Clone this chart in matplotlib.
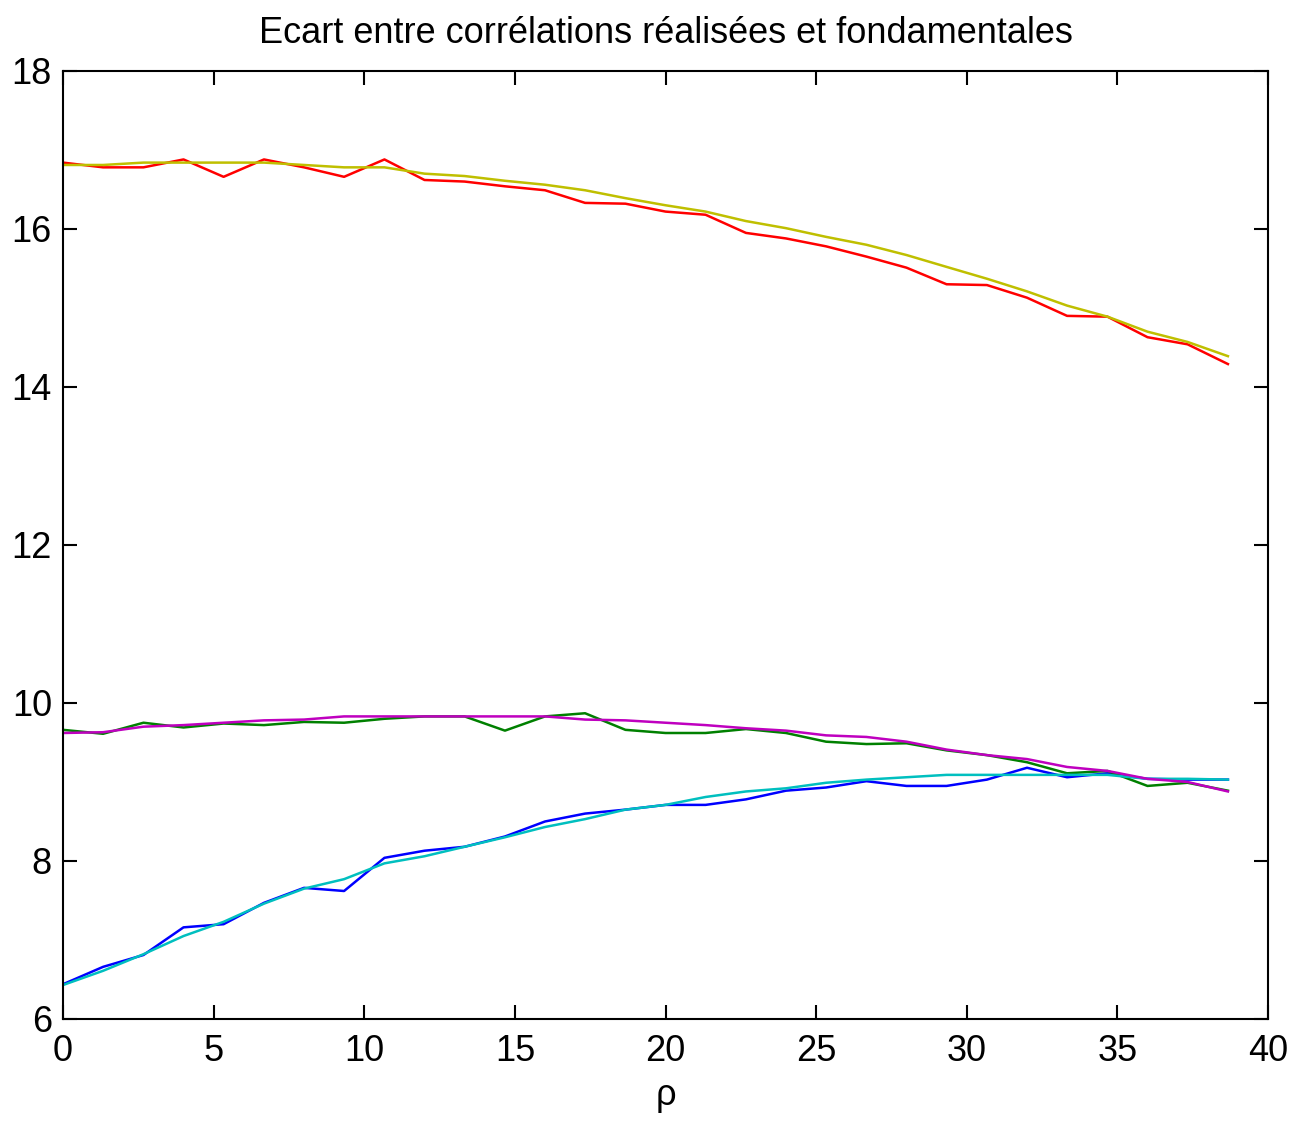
import matplotlib
matplotlib.use("Agg")
import matplotlib.pyplot as plt

# --- données ---
rho = [0, 1.33, 2.67, 4, 5.33, 6.67, 8, 9.33, 10.67, 12,
       13.33, 14.67, 16, 17.33, 18.67, 20, 21.33, 22.67, 24, 25.33,
       26.67, 28, 29.33, 30.67, 32, 33.33, 34.67, 36, 37.33, 38.67]

# réalisées
real_bas = [6.44, 6.66, 6.81, 7.16, 7.20, 7.47, 7.66, 7.62, 8.04, 8.13,
            8.18, 8.31, 8.50, 8.60, 8.65, 8.71, 8.71, 8.78, 8.89, 8.93,
            9.01, 8.95, 8.95, 9.03, 9.18, 9.06, 9.11, 9.04, 9.03, 9.03]
real_mil = [9.66, 9.61, 9.75, 9.69, 9.74, 9.72, 9.76, 9.75, 9.80, 9.83,
            9.83, 9.65, 9.83, 9.87, 9.66, 9.62, 9.62, 9.67, 9.62, 9.51,
            9.48, 9.49, 9.40, 9.34, 9.25, 9.11, 9.14, 8.95, 8.99, 8.89]
real_haut = [16.84, 16.78, 16.78, 16.88, 16.66, 16.88, 16.78, 16.66, 16.88, 16.62,
             16.60, 16.54, 16.49, 16.33, 16.32, 16.22, 16.18, 15.95, 15.88, 15.78,
             15.65, 15.51, 15.30, 15.29, 15.13, 14.90, 14.89, 14.63, 14.54, 14.29]

# fondamentales
fond_bas = [6.43, 6.61, 6.82, 7.05, 7.23, 7.46, 7.65, 7.77, 7.97, 8.06,
            8.18, 8.30, 8.43, 8.53, 8.65, 8.71, 8.81, 8.88, 8.92, 8.99,
            9.03, 9.06, 9.09, 9.09, 9.09, 9.09, 9.09, 9.04, 9.04, 9.03]
fond_mil = [9.62, 9.63, 9.70, 9.72, 9.75, 9.78, 9.79, 9.83, 9.83, 9.83,
            9.83, 9.83, 9.83, 9.79, 9.78, 9.75, 9.72, 9.68, 9.65, 9.59,
            9.57, 9.51, 9.41, 9.34, 9.29, 9.19, 9.14, 9.04, 9.00, 8.88]
fond_haut = [16.81, 16.81, 16.84, 16.84, 16.84, 16.84, 16.81, 16.78, 16.78, 16.70,
             16.67, 16.61, 16.56, 16.49, 16.39, 16.30, 16.22, 16.10, 16.01, 15.90,
             15.80, 15.67, 15.52, 15.37, 15.21, 15.03, 14.89, 14.70, 14.57, 14.39]

plt.rcParams['font.family'] = ['Liberation Sans', 'DejaVu Sans']

fig = plt.figure(figsize=(12.89, 11.21), dpi=100)
ax = fig.add_axes([0.0489, 0.091, 0.9348, 0.8457])

# ordre des couleurs MATLAB (réalisées d'abord, fondamentales par-dessus)
lw = 1.8
ax.plot(rho, real_bas, color=(0, 0, 1), lw=lw)
ax.plot(rho, real_mil, color=(0, 0.5, 0), lw=lw)
ax.plot(rho, real_haut, color=(1, 0, 0), lw=lw)
ax.plot(rho, fond_bas, color=(0, 0.75, 0.75), lw=lw)
ax.plot(rho, fond_mil, color=(0.75, 0, 0.75), lw=lw)
ax.plot(rho, fond_haut, color=(0.75, 0.75, 0), lw=lw)

ax.set_xlim(0, 40)
ax.set_ylim(6, 18)
ax.set_xticks(range(0, 41, 5))
ax.set_yticks(range(6, 19, 2))
ax.tick_params(direction='in', length=10, width=1.5, top=True, right=True,
               labelsize=26)
ax.tick_params(axis='x', pad=11)
ax.tick_params(axis='y', pad=8)
for s in ax.spines.values():
    s.set_linewidth(1.5)

ax.set_title("Ecart entre corrélations réalisées et fondamentales", fontsize=26, pad=20)
ax.set_xlabel("ρ", fontsize=26, labelpad=6)

fig.savefig("out.png", dpi=100)
